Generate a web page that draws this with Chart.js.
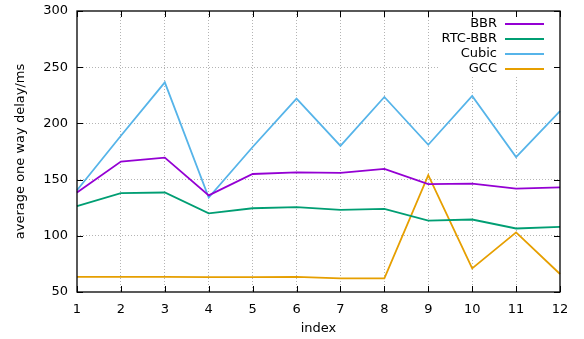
<!DOCTYPE html>
<html lang="en">
  <head>
    <meta charset="UTF-8" />
    <title>Average one way delay</title>
    <script src="https://cdn.jsdelivr.net/npm/chart.js"></script>
    <style>
      html, body {
        margin: 0;
        padding: 0;
        background: #fff;
      }
      #chartContainer {
        width: 584px;
        height: 339px;
      }
    </style>
  </head>
  <body>
    <div id="chartContainer">
      <canvas id="delayChart"></canvas>
    </div>

    <script>
      const indices = [1, 2, 3, 4, 5, 6, 7, 8, 9, 10, 11, 12];
      const bbr = [138.5, 166, 169.5, 136, 155, 156.5, 156, 159.5, 146, 146.5, 142, 143];
      const rtcBbr = [126.5, 138, 138.5, 120, 124.5, 125.5, 123, 124, 113.5, 114.5, 106.5, 108];
      const cubic = [140.5, 189, 236.5, 134, 179, 222, 180, 223.5, 181, 224.5, 170, 211];
      const gcc = [63.5, 63.5, 63.5, 63.3, 63.3, 63.5, 62.2, 62.2, 154, 71, 103, 66];
      const yTicks = [50, 100, 150, 200, 250, 300];

      const FONT = { family: "'DejaVu Sans', sans-serif", size: 13 };
      const GRID_COLOR = "#b4b4b4";

      // gnuplot style frame: border, inward ticks on all sides, boxed legend
      const gnuplotFrame = {
        id: "gnuplotFrame",
        beforeDatasetsDraw(chart) {
          const { ctx, chartArea } = chart;
          ctx.save();
          ctx.fillStyle = "#fff";
          ctx.fillRect(chartArea.right - 120, chartArea.top + 1, 119, 64);
          ctx.restore();
        },
        afterDatasetsDraw(chart) {
          const { ctx, chartArea, scales } = chart;
          const { left, right, top, bottom } = chartArea;
          const tick = 6;
          ctx.save();
          ctx.strokeStyle = "#000";
          ctx.lineWidth = 1;
          ctx.beginPath();
          indices.forEach((v, i) => {
            const x = Math.round(scales.x.getPixelForValue(i)) + 0.5;
            ctx.moveTo(x, bottom);
            ctx.lineTo(x, bottom - tick);
            ctx.moveTo(x, top);
            ctx.lineTo(x, top + tick);
          });
          yTicks.forEach((v) => {
            const y = Math.round(scales.y.getPixelForValue(v)) + 0.5;
            ctx.moveTo(left, y);
            ctx.lineTo(left + tick, y);
            ctx.moveTo(right, y);
            ctx.lineTo(right - tick, y);
          });
          ctx.stroke();
          ctx.lineWidth = 1.3;
          ctx.strokeRect(left, top, right - left, bottom - top);

          // legend
          ctx.font = `${FONT.size}px ${FONT.family}`;
          ctx.textAlign = "right";
          ctx.textBaseline = "middle";
          chart.data.datasets.forEach((ds, i) => {
            const y = top + 13 + i * 15;
            ctx.fillStyle = "#000";
            ctx.fillText(ds.label, right - 63, y);
            ctx.strokeStyle = ds.borderColor;
            ctx.lineWidth = 1.8;
            ctx.beginPath();
            ctx.moveTo(right - 55, y);
            ctx.lineTo(right - 16, y);
            ctx.stroke();
          });
          ctx.restore();
        },
      };

      function makeDataset(label, data, color) {
        return {
          label: label,
          data: data,
          borderColor: color,
          backgroundColor: color,
          borderWidth: 1.8,
          pointRadius: 0,
          tension: 0,
          fill: false,
        };
      }

      const ctx = document.getElementById("delayChart").getContext("2d");
      new Chart(ctx, {
        type: "line",
        data: {
          labels: indices,
          datasets: [
            makeDataset("BBR", bbr, "#9400d3"),
            makeDataset("RTC-BBR", rtcBbr, "#009e73"),
            makeDataset("Cubic", cubic, "#56b4e9"),
            makeDataset("GCC", gcc, "#e69f00"),
          ],
        },
        options: {
          responsive: true,
          maintainAspectRatio: false,
          animation: false,
          layout: {
            padding: { top: 11, right: 24, left: 0, bottom: 0 },
          },
          scales: {
            x: {
              type: "category",
              offset: false,
              afterFit(scale) {
                scale.height = 47;
                scale.paddingLeft = 0;
                scale.paddingRight = 0;
              },
              grid: {
                color: (c) => (c.index === 0 || c.index === indices.length - 1 ? "rgba(0,0,0,0)" : GRID_COLOR),
                lineWidth: 1,
                drawTicks: false,
              },
              border: { display: false, dash: [1, 2] },
              ticks: {
                color: "#000",
                font: FONT,
                padding: 10,
                maxRotation: 0,
                autoSkip: false,
              },
              title: {
                display: true,
                text: "index",
                color: "#000",
                font: FONT,
                padding: { top: 0, bottom: 3 },
              },
            },
            y: {
              min: 50,
              max: 300,
              afterFit(scale) {
                scale.width = 77;
                scale.paddingTop = 0;
                scale.paddingBottom = 0;
              },
              afterBuildTicks(scale) {
                scale.ticks = yTicks.map((v) => ({ value: v }));
              },
              grid: {
                color: (c) => (c.tick && (c.tick.value === 50 || c.tick.value === 300) ? "rgba(0,0,0,0)" : GRID_COLOR),
                lineWidth: 1,
                drawTicks: false,
              },
              border: { display: false, dash: [1, 2] },
              ticks: {
                color: "#000",
                font: FONT,
                padding: 9,
              },
              title: {
                display: true,
                text: "average one way delay/ms",
                color: "#000",
                font: FONT,
                padding: { top: 13, bottom: 0 },
              },
            },
          },
          plugins: {
            legend: { display: false },
            tooltip: { enabled: false },
          },
        },
        plugins: [gnuplotFrame],
      });
    </script>
  </body>
</html>
